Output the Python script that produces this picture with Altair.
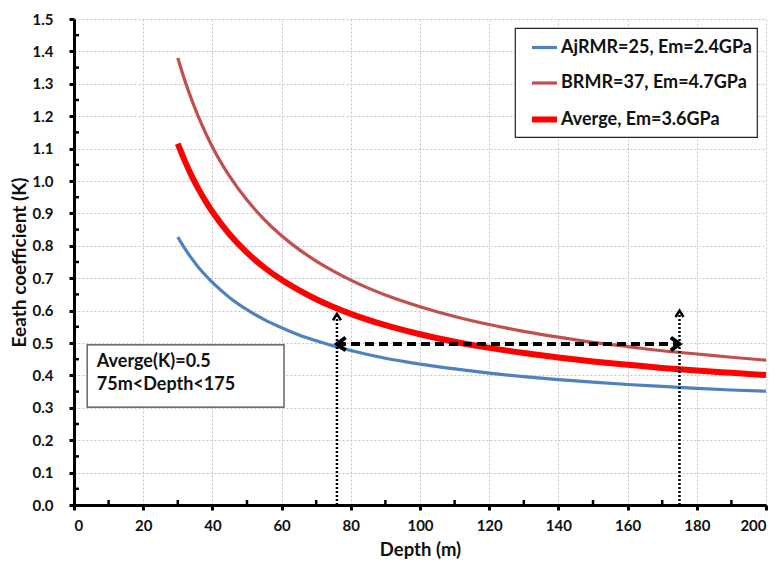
import altair as alt
import pandas as pd

# ---------------- data ----------------
depth = [30, 32, 34, 36, 38, 40, 45, 50, 55, 60, 65, 70, 75, 80, 90, 100,
         110, 120, 130, 140, 150, 160, 170, 180, 190, 200]
k_a = [0.827, 0.792, 0.761, 0.733, 0.709, 0.687, 0.640, 0.603, 0.572, 0.547,
       0.525, 0.507, 0.491, 0.477, 0.453, 0.435, 0.420, 0.407, 0.396, 0.387,
       0.379, 0.372, 0.366, 0.360, 0.355, 0.351]
k_b = [1.380, 1.311, 1.251, 1.197, 1.149, 1.105, 1.014, 0.941, 0.881, 0.831,
       0.789, 0.753, 0.722, 0.694, 0.648, 0.612, 0.582, 0.557, 0.536, 0.518,
       0.502, 0.489, 0.476, 0.466, 0.456, 0.447]
k_avg = [1.115, 1.063, 1.016, 0.975, 0.938, 0.905, 0.835, 0.779, 0.733, 0.695,
         0.663, 0.635, 0.611, 0.590, 0.555, 0.527, 0.504, 0.485, 0.469, 0.455,
         0.443, 0.433, 0.423, 0.415, 0.408, 0.401]

series_names = ["AjRMR=25, Em=2.4GPa", "BRMR=37, Em=4.7GPa", "Averge, Em=3.6GPa"]
series_colors = ["#4F81BD", "#C0504D", "#FF0000"]
series_widths = [3.2, 3.2, 6.0]

x_major = [0, 20, 40, 60, 80, 100, 120, 140, 160, 180, 200]
x_minor = [10, 30, 50, 70, 90, 110, 130, 150, 170, 190]
y_major = [0.0, 0.1, 0.2, 0.3, 0.4, 0.5, 0.6, 0.7, 0.8, 0.9, 1.0, 1.1, 1.2, 1.3, 1.4, 1.5]
y_minor = [0.05, 0.15, 0.25, 0.35, 0.45, 0.55, 0.65, 0.75, 0.85, 0.95, 1.05, 1.15, 1.25, 1.35, 1.45]

note_lines = ["Averge(K)=0.5", "75m<Depth<175"]
range_start, range_end = 76, 175
range_k = 0.497
arrow_tops = [0.59, 0.60]

# ---------------- tables ----------------
rows = []
for name, vals in zip(series_names, [k_a, k_b, k_avg]):
    for d, v in zip(depth, vals):
        rows.append({"depth": d, "K": v, "series": name})
curves = pd.DataFrame(rows)

FONT = "Lato"
W, H = 692, 486

xscale = alt.Scale(domain=[0, 200], nice=False, zero=False)
yscale = alt.Scale(domain=[0, 1.5], nice=False)

xaxis = alt.Axis(values=x_major, format="d", title="Depth (m)",
                 labelFont=FONT, labelFontSize=15, labelFontWeight="bold", labelColor="#111",
                 labelPadding=8, tickSize=5, tickWidth=3, tickColor="black",
                 domainColor="black", domainWidth=3,
                 grid=True, gridColor="#c4c4c4", gridDash=[2, 2], gridWidth=1,
                 titleFont=FONT, titleFontSize=18.5, titleFontWeight="bold", titleColor="#111",
                 titlePadding=7)
yaxis = alt.Axis(values=y_major, format=".1f", title="Eeath coefficient (K)",
                 labelFont=FONT, labelFontSize=15, labelFontWeight="bold", labelColor="#111",
                 labelPadding=16, tickSize=5, tickWidth=3, tickColor="black",
                 domainColor="black", domainWidth=3,
                 grid=True, gridColor="#c4c4c4", gridDash=[2, 2], gridWidth=1,
                 titleFont=FONT, titleFontSize=19, titleFontWeight="bold", titleColor="#111",
                 titlePadding=3)


def X(field, **kw):
    return alt.X(field, type="quantitative", scale=xscale, axis=xaxis, **kw)


def Y(field, **kw):
    return alt.Y(field, type="quantitative", scale=yscale, axis=yaxis, **kw)


lines = alt.Chart(curves).mark_line(interpolate="monotone").encode(
    x=X("depth"),
    y=Y("K"),
    color=alt.Color("series:N", scale=alt.Scale(domain=series_names, range=series_colors),
                    sort=series_names, title=None),
    strokeWidth=alt.StrokeWidth("series:N",
                                scale=alt.Scale(type="ordinal", domain=series_names, range=series_widths),
                                sort=series_names, title=None),
    detail="series:N",
)

xminor = alt.Chart(pd.DataFrame({"depth": x_minor})).mark_rule(color="black", strokeWidth=2.5).encode(
    x=X("depth"), y=alt.value(H), y2=alt.value(H - 5))
yminor = alt.Chart(pd.DataFrame({"K": y_minor})).mark_rule(color="black", strokeWidth=2.5).encode(
    y=Y("K"), x=alt.value(0), x2=alt.value(5))

# annotation box
box = alt.Chart(pd.DataFrame({"depth": [3.8], "d2": [60.7], "K": [0.302], "K2": [0.494]})).mark_rect(
    fill="white", stroke="#404040", strokeWidth=1.2).encode(
    x=X("depth"), x2="d2", y=Y("K"), y2="K2")
note = alt.Chart(pd.DataFrame({"depth": [6.6, 6.6], "K": [0.441, 0.370], "t": note_lines})).mark_text(
    align="left", baseline="middle", font=FONT, fontSize=18, fontWeight="bold", color="#111").encode(
    x=X("depth"), y=Y("K"), text="t:N")

# arrows
vdf = pd.DataFrame({"depth": [range_start, range_end], "K": [0, 0], "K2": arrow_tops})
vlines = alt.Chart(vdf).mark_rule(color="black", strokeWidth=2.5, strokeDash=[2, 2]).encode(
    x=X("depth"), y=Y("K"), y2="K2")
vheads = alt.Chart(pd.DataFrame({"depth": [range_start, range_end], "K": arrow_tops})).mark_point(
    shape="M -1 1.6 L 0 0 L 1 1.6", size=64, filled=False, stroke="black", strokeWidth=2.5,
    opacity=1).encode(x=X("depth"), y=Y("K"))
hline = alt.Chart(pd.DataFrame({"depth": [range_start], "d2": [range_end], "K": [range_k]})).mark_rule(
    color="black", strokeWidth=4, strokeDash=[9, 5]).encode(x=X("depth"), x2="d2", y=Y("K"))
lhead = alt.Chart(pd.DataFrame({"depth": [range_start], "K": [range_k]})).mark_point(
    shape="M 1 -0.75 L 0 0 L 1 0.75", size=300, filled=False, stroke="black", strokeWidth=4,
    opacity=1).encode(x=X("depth"), y=Y("K"))
rhead = alt.Chart(pd.DataFrame({"depth": [range_end], "K": [range_k]})).mark_point(
    shape="M -1 -0.75 L 0 0 L -1 0.75", size=300, filled=False, stroke="black", strokeWidth=4,
    opacity=1).encode(x=X("depth"), y=Y("K"))

chart = alt.layer(
    xminor, yminor, lines, box, note, vlines, vheads, hline, lhead, rhead
).properties(
    width=W, height=H,
    autosize=alt.AutoSizeParams(type="none"),
    padding={"left": 74, "top": 19, "right": 11, "bottom": 58},
    background="white",
).configure_view(stroke=None).configure_legend(
    orient="none", legendX=441, legendY=9,
    fillColor="white", strokeColor="#222", strokeWidth=1.2, padding=5,
    symbolType="stroke", symbolSize=625, symbolOffset=9,
    labelFont=FONT, labelFontSize=18,
    labelFontWeight="bold", labelColor="#111", labelOffset=1, rowPadding=11.5,
    labelLimit=400,
)

chart.save("out.html", embed_options={"renderer": "svg", "actions": False})
